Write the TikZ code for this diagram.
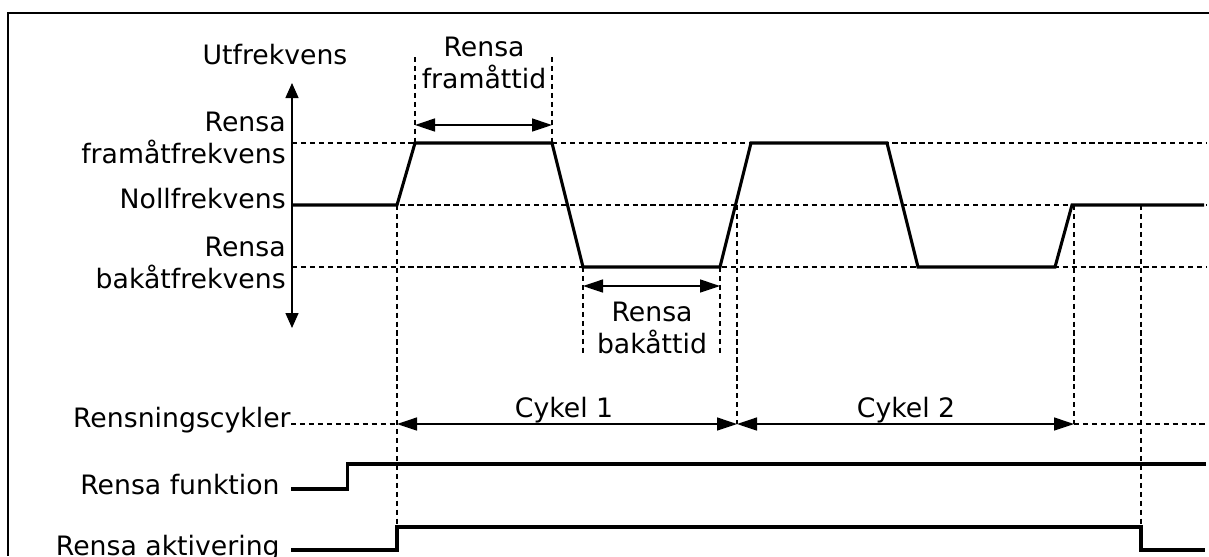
\documentclass[tikz,border=0pt]{standalone}
\usepackage{fontspec}
\setmainfont{DejaVu Sans}
\usetikzlibrary{arrows.meta, positioning}

\tikzset{
  signal/.style={line width=1.75pt, line join=miter},
  guide/.style={line width=0.7pt, dash pattern=on 3pt off 2.1pt},
  span/.style={line width=0.8pt, {Triangle[length=0.4cm,width=0.26cm]}-{Triangle[length=0.4cm,width=0.26cm]}},
  lbl/.style={font=\fontsize{15.2}{18.4}\selectfont, inner sep=0pt, align=center},
  lblr/.style={lbl, align=right},
}

\begin{document}
\begin{tikzpicture}[x=0.02cm, y=-0.02cm]
  \useasboundingbox (0,0) rectangle (1209,556);
  % frame
  \draw[line width=0.8pt] (1209,13) -- (8,13) -- (8,556);

  % levels
  \coordinate (fl) at (292,143);
  \coordinate (zl) at (292,205);
  \coordinate (bl) at (292,267);
  \coordinate (end) at (1206,0);
  \draw[guide] (fl) -- (fl -| end);
  \draw[guide] (zl) -- (zl -| end);
  \draw[guide] (bl) -- (bl -| end);

  % axis
  \coordinate (ytop) at (292,83);
  \coordinate (ybot) at (292,328);
  \draw[line width=0.8pt, {Triangle[length=0.3cm,width=0.26cm]}-{Triangle[length=0.3cm,width=0.26cm]}] (ybot) -- (ytop);
  \node[lbl, anchor=base] (yaxis) at (275,64) {Utfrekvens};
  \node[lblr, anchor=east] (fwd) at (286,138) {Rensa\\framåtfrekvens};
  \node[lbl, anchor=base east] (zero) at (286,208) {Nollfrekvens};
  \node[lblr, anchor=east] (bwd) at (286,263) {Rensa\\bakåtfrekvens};

  % time points
  \coordinate (a0) at (397,205);
  \coordinate (a1) at (415,143);
  \coordinate (a2) at (552,143);
  \coordinate (a3) at (583,267);
  \coordinate (a4) at (720,267);
  \coordinate (a5) at (751,143);
  \coordinate (a6) at (887,143);
  \coordinate (a7) at (918,267);
  \coordinate (a8) at (1055,267);
  \coordinate (a9) at (1072,205);

  % forward / backward time
  \coordinate (ft1) at (415,57);
  \coordinate (ft2) at (552,57);
  \draw[guide] (ft1) -- (a1);
  \draw[guide] (ft2) -- (a2);
  \draw[span] (415,125) coordinate (fa1) -- (552,125) coordinate (fa2);
  \node[lbl] (fwdtime) at (484,63) {Rensa\\framåttid};

  \coordinate (bt1) at (583,353);
  \coordinate (bt2) at (720,353);
  \draw[guide] (a3) -- (bt1);
  \draw[guide] (a4) -- (bt2);
  \draw[span] (583,286) coordinate (ba1) -- (720,286) coordinate (ba2);
  \node[lbl] (bwdtime) at (652,328) {Rensa\\bakåttid};

  % cycles
  \coordinate (c0) at (397,424);
  \coordinate (c1) at (737,424);
  \coordinate (c2) at (1074,424);
  \node[lbl, anchor=base east] (cyc) at (291,427) {Rensningscykler};
  \draw[guide] (cyc.base east |- c0) -- (c0);
  \draw[guide] (c2) -- (c2 -| end);
  \draw[guide] (737,205) -- (c1);
  \draw[guide] (1074,205) -- (c2);
  \draw[span] (c0) -- (c1);
  \draw[span] (c1) -- (c2);
  \node[lbl, anchor=base] (cyc1) at (564,417) {Cykel 1};
  \node[lbl, anchor=base] (cyc2) at (906,417) {Cykel 2};

  % enable lines
  \coordinate (s1) at (347.5,464);
  \coordinate (s2) at (397,527);
  \coordinate (s3) at (1141,527);
  \draw[guide] (a0) -- (s2);
  \draw[guide] (1141,205) -- (s3);
  \node[lbl, anchor=base east] (func) at (280,494) {Rensa funktion};
  \node[lbl, anchor=base east] (act) at (280,555) {Rensa aktivering};
  \draw[signal] (291,489) -- (s1 |- 0,489) -- (s1) -- (s1 -| end);
  \draw[signal] (291,550) -- (s2 |- 0,550) -- (s2) -- (s3) -- (s3 |- 0,550) -- (1205,550);

  % output frequency
  \draw[signal] (zl) -- (a0) -- (a1) -- (a2) -- (a3) -- (a4) -- (a5) -- (a6)
    -- (a7) -- (a8) -- (a9) -- (1204,205);
\end{tikzpicture}
\end{document}
